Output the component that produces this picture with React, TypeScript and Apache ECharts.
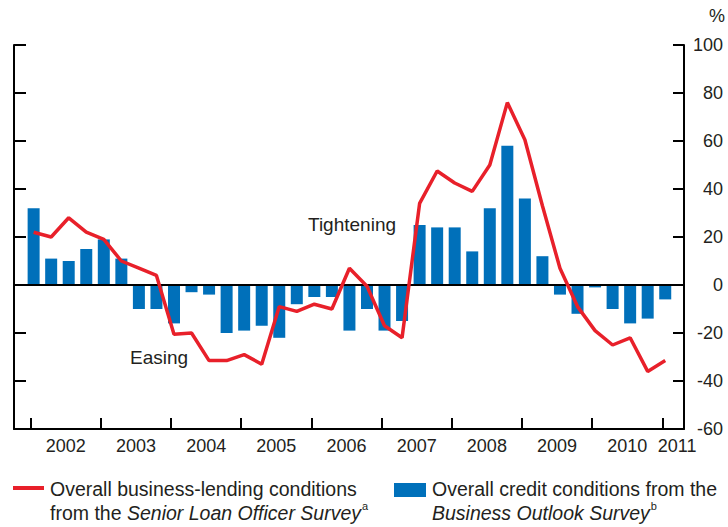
import React, { useEffect, useRef } from "react";
import * as echarts from "echarts";

const quarters: string[] = [
  "2002Q1","2002Q2","2002Q3","2002Q4",
  "2003Q1","2003Q2","2003Q3","2003Q4",
  "2004Q1","2004Q2","2004Q3","2004Q4",
  "2005Q1","2005Q2","2005Q3","2005Q4",
  "2006Q1","2006Q2","2006Q3","2006Q4",
  "2007Q1","2007Q2","2007Q3","2007Q4",
  "2008Q1","2008Q2","2008Q3","2008Q4",
  "2009Q1","2009Q2","2009Q3","2009Q4",
  "2010Q1","2010Q2","2010Q3","2010Q4",
  "2011Q1",
];

// Business Outlook Survey: overall credit conditions (bars)
const creditConditions: number[] = [
  32, 11, 10, 15, 19, 11, -10, -10,
  -16, -3, -4, -20, -19, -17, -22, -8,
  -5, -5, -19, -10, -19, -15, 25, 24,
  24, 14, 32, 58, 36, 12, -4, -12,
  -1, -10, -16, -14, -6,
];

// Senior Loan Officer Survey: overall business-lending conditions (line)
const lendingConditions: number[] = [
  22, 20, 28, 22, 19, 10, 7, 4,
  -20.5, -20, -31.5, -31.5, -29, -33, -9, -11,
  -8, -10, 7, -0.5, -17, -22, 34, 47.5,
  42.5, 39, 50, 76, 60.5, 33, 7, -9,
  -19, -25, -22, -36, -31.5,
];

const yearTicks: number[] = [2002, 2003, 2004, 2005, 2006, 2007, 2008, 2009, 2010, 2011];
const yearLabelPositions: number[] = [2002.5, 2003.5, 2004.5, 2005.5, 2006.5, 2007.5, 2008.5, 2009.5, 2010.5, 2011.21];

const LINE_LEGEND = "{n|Overall business-lending conditions}\n{n|from the }{i|Senior Loan Officer Survey}{s|a}";
const BAR_LEGEND = "{n|Overall credit conditions from the}\n{i|Business Outlook Survey}{s|b}";

const LINE_COLOR = "#e8202a";
const BAR_COLOR = "#0070ba";

const toX = (q: string): number => {
  const y = parseInt(q.slice(0, 4), 10);
  const qn = parseInt(q.slice(5), 10);
  return y + (qn - 1) / 4 + 1 / 24;
};

const FONT = "'Liberation Sans', Arial, Helvetica, sans-serif";
const TEXT = "#231f20";

export default function App() {
  const ref = useRef<HTMLDivElement>(null);
  useEffect(() => {
    if (!ref.current) return;
    const chart = echarts.init(ref.current, null, { renderer: "svg" });
    const barData = quarters.map((q, i) => [toX(q), creditConditions[i]]);
    const lineData = quarters.map((q, i) => [toX(q), lendingConditions[i]]);

    const rich = {
      n: { fontSize: 19.5, fontFamily: FONT, fill: TEXT, lineHeight: 23.5 },
      i: { fontSize: 19.5, fontFamily: FONT, fill: TEXT, fontStyle: "italic", lineHeight: 23.5 },
      s: { fontSize: 11, fontFamily: FONT, fill: TEXT, lineHeight: 23.5, verticalAlign: "top", padding: [0, 0, 8, 1] },
    };

    const option: any = {
      animation: false,
      textStyle: { fontFamily: FONT },
      grid: { left: 14, right: 43, top: 45, bottom: 98, containLabel: false },
      xAxis: {
        type: "value",
        min: 2001.762,
        max: 2011.309,
        splitLine: { show: false },
        axisLine: { show: true, onZero: false, lineStyle: { color: "#000", width: 2 } },
        axisTick: {
          show: true,
          inside: true,
          length: 11,
          customValues: yearTicks,
          lineStyle: { color: "#000", width: 2 },
        },
        axisLabel: {
          show: true,
          customValues: yearLabelPositions,
          formatter: (v: number) => String(Math.floor(v)),
          fontSize: 18,
          color: TEXT,
          fontFamily: FONT,
          margin: 8,
        },
      },
      yAxis: [
        {
          type: "value",
          position: "right",
          min: -60,
          max: 100,
          interval: 20,
          name: "%",
          nameLocation: "end",
          nameGap: 20,
          nameTextStyle: { fontSize: 18, color: TEXT, fontFamily: FONT, align: "left", padding: [0, 0, 0, 25] },
          splitLine: { show: false },
          axisLine: { show: true, lineStyle: { color: "#000", width: 2 } },
          axisTick: { show: true, inside: true, length: 11, lineStyle: { color: "#000", width: 2 } },
          axisLabel: {
            show: true,
            align: "right",
            margin: 39,
            fontSize: 18,
            color: TEXT,
            fontFamily: FONT,
          },
        },
        {
          type: "value",
          position: "left",
          min: -60,
          max: 100,
          interval: 20,
          splitLine: { show: false },
          axisLine: { show: true, lineStyle: { color: "#000", width: 2 } },
          axisTick: { show: true, inside: true, length: 12, lineStyle: { color: "#000", width: 2 } },
          axisLabel: { show: false },
        },
      ],
      series: [
        {
          name: "Overall credit conditions from the Business Outlook Survey",
          type: "bar",
          yAxisIndex: 0,
          data: barData,
          barWidth: 12,
          itemStyle: { color: BAR_COLOR },
          z: 2,
          markLine: {
            silent: true,
            symbol: "none",
            label: { show: false },
            lineStyle: { color: "#000", width: 2, type: "solid" },
            data: [{ yAxis: 0 }],
            z: 3,
          },
        },
        {
          name: "Overall business-lending conditions from the Senior Loan Officer Survey",
          type: "line",
          yAxisIndex: 0,
          data: lineData,
          symbol: "none",
          color: LINE_COLOR,
          lineStyle: { color: LINE_COLOR, width: 3.5 },
          z: 5,
        },
      ],
      graphic: [
        {
          type: "text",
          left: 308,
          top: 215,
          style: { text: "Tightening", fontSize: 19, fontFamily: FONT, fill: TEXT },
        },
        {
          type: "text",
          left: 130,
          top: 348,
          style: { text: "Easing", fontSize: 19, fontFamily: FONT, fill: TEXT },
        },
        {
          type: "rect",
          shape: { x: 13, y: 486, width: 31, height: 4 },
          style: { fill: LINE_COLOR },
        },
        {
          type: "text",
          left: 50,
          top: 479,
          style: { text: LINE_LEGEND, rich, fontFamily: FONT, fill: TEXT },
        },
        {
          type: "rect",
          shape: { x: 394, y: 483, width: 32, height: 14 },
          style: { fill: BAR_COLOR },
        },
        {
          type: "text",
          left: 432,
          top: 479,
          style: { text: BAR_LEGEND, rich, fontFamily: FONT, fill: TEXT },
        },
      ],
    };
    chart.setOption(option);
    return () => chart.dispose();
  }, []);
  return <div ref={ref} style={{ width: 728, height: 527, position: "absolute", left: 0, top: 0 }} />;
}
